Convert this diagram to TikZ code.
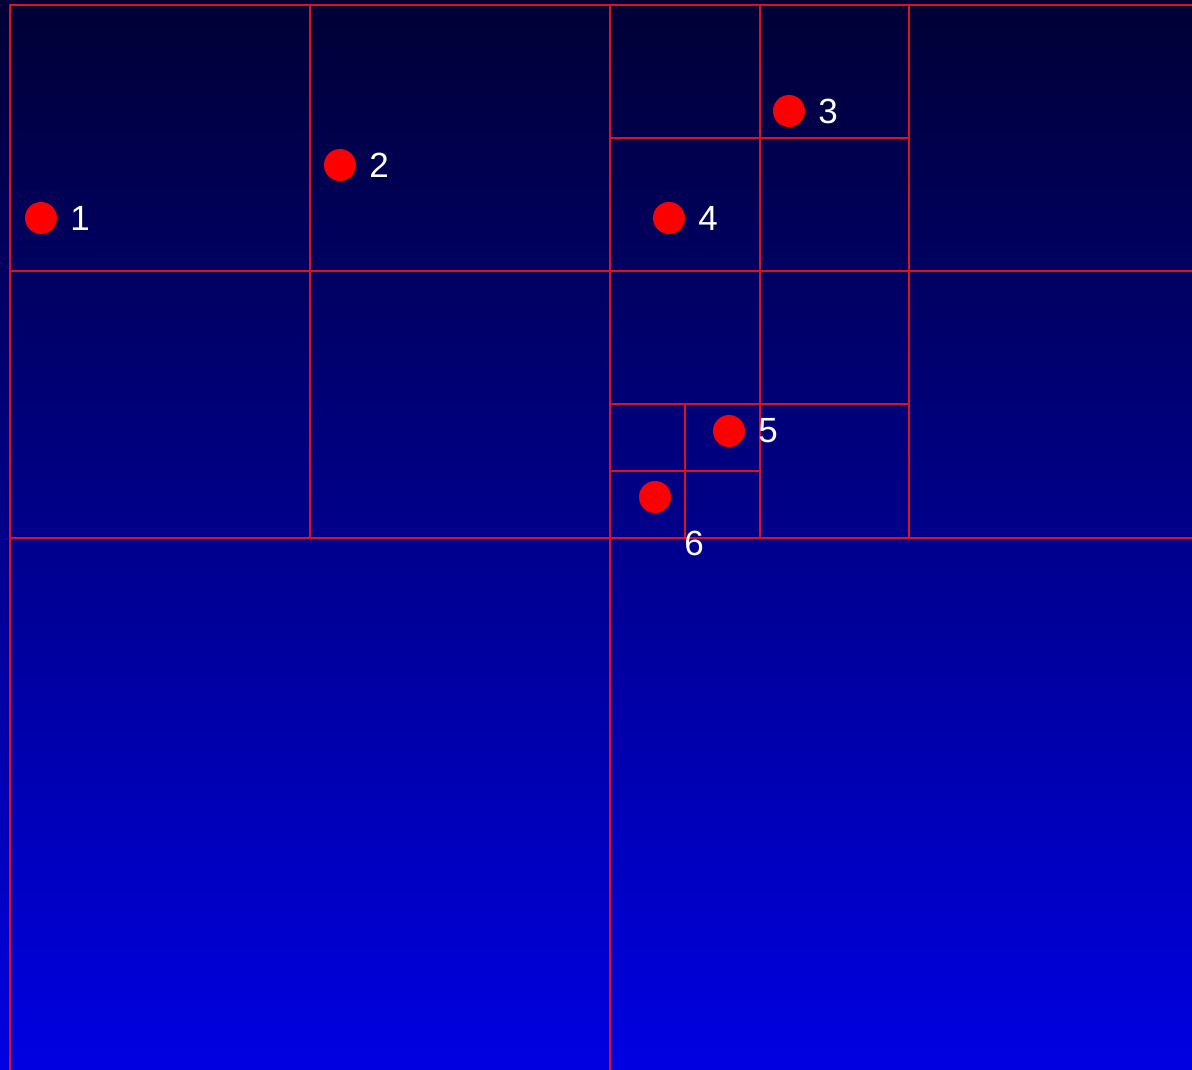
\documentclass[tikz,border=0pt]{standalone}
\usepackage{fontspec}
\setmainfont{Liberation Sans}
\usepackage{tikz}
\usetikzlibrary{positioning, calc}
\usepackage{xcolor}
\definecolor{navytop}{HTML}{000035}
\definecolor{bluebottom}{HTML}{0000E2}
\definecolor{gridred}{HTML}{E2101E}

\begin{document}
\begin{tikzpicture}[
    x=1pt, y=-1pt,
    cell/.style={draw=gridred, line width=1.2pt},
    pt/.style={circle, fill=red, inner sep=0pt, minimum size=32pt},
    num/.style={text=white, inner sep=0pt, font=\fontsize{35}{38}\selectfont}
]

% Canvas
\useasboundingbox (0,0) rectangle (1192,1069);
\shade[top color=navytop, bottom color=bluebottom] (0,0) rectangle (1192,1069);
\clip (0,0) rectangle (1192,1069);

% Root and first split
\draw[cell] (10,5) rectangle (1210,1071);
\draw[cell] (610,5) -- (610,1071);
\draw[cell] (10,538) -- (1210,538);

% North-west quadrant
\draw[cell] (310,5) -- (310,538);
\draw[cell] (10,271) -- (610,271);

% North-east quadrant
\draw[cell] (909,5) -- (909,538);
\draw[cell] (610,271) -- (1210,271);
\draw[cell] (760,5) -- (760,538);
\draw[cell] (610,138) -- (909,138);
\draw[cell] (610,404) -- (909,404);

% Deepest cell
\draw[cell] (685,404) -- (685,538);
\draw[cell] (610,471) -- (760,471);

% Points
\node[pt] (p1) at (41,218) {};
\node[pt] (p2) at (340,165) {};
\node[pt] (p3) at (789,111) {};
\node[pt] (p4) at (669,218) {};
\node[pt] (p5) at (729,431) {};
\node[pt] (p6) at (655,497) {};

% Labels
\node[num] (l1) at ($(p1)+(39,0)$) {1};
\node[num] (l2) at ($(p2)+(39,0)$) {2};
\node[num] (l3) at ($(p3)+(39,0)$) {3};
\node[num] (l4) at ($(p4)+(39,0)$) {4};
\node[num] (l5) at ($(p5)+(39,0)$) {5};
\node[num] (l6) at ($(p6)+(39,46)$) {6};

\end{tikzpicture}
\end{document}
